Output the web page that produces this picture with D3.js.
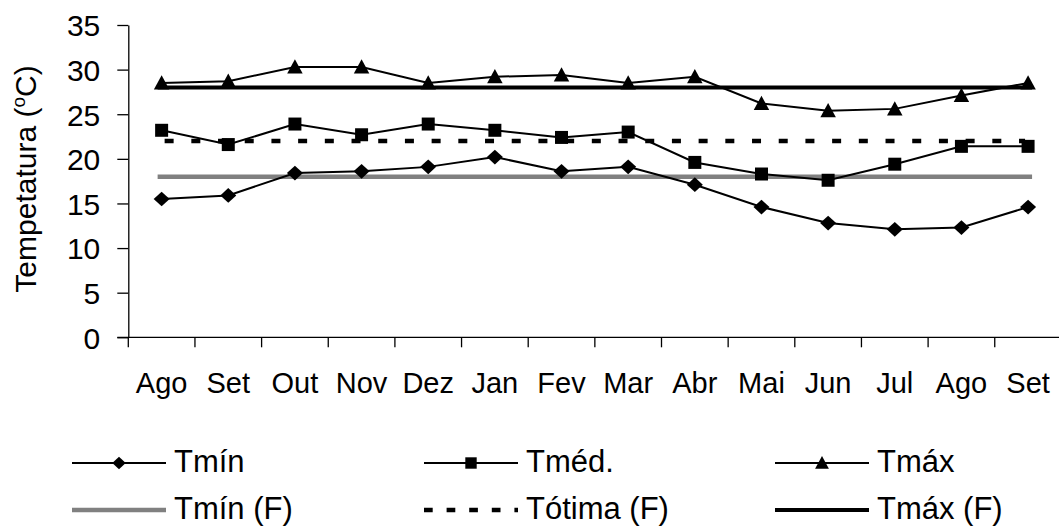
<!DOCTYPE html>
<html>
<head>
<meta charset="utf-8">
<script src="https://cdn.jsdelivr.net/npm/d3@7"></script>
<style>
  body { margin: 0; background: #fff; }
  text { font-family: "Liberation Sans", Arial, sans-serif; fill: #000; }
</style>
</head>
<body>
<div id="chart"></div>
<script>
const months = ['Ago', 'Set', 'Out', 'Nov', 'Dez', 'Jan', 'Fev', 'Mar', 'Abr', 'Mai', 'Jun', 'Jul', 'Ago', 'Set'];
const tmin = [15.5, 15.9, 18.4, 18.6, 19.1, 20.2, 18.6, 19.1, 17.1, 14.6, 12.8, 12.1, 12.3, 14.6];
const tmed = [23.2, 21.6, 23.9, 22.7, 23.9, 23.2, 22.4, 23.0, 19.6, 18.3, 17.6, 19.4, 21.4, 21.4];
const tmax = [28.5, 28.7, 30.3, 30.3, 28.5, 29.2, 29.4, 28.5, 29.2, 26.2, 25.4, 25.6, 27.1, 28.5];
const tminF = 18;
const totimaF = 22;
const tmaxF = 28;
const yTicks = [0, 5, 10, 15, 20, 25, 30, 35];

const width = 1059, height = 526;
const plotLeft = 128.3, plotRight = 1061.4, plotTop = 25, plotBottom = 337.3;

const svg = d3.select('#chart').append('svg')
  .attr('width', width)
  .attr('height', height);

// excel-like markers: flat diamond and triangle centred on the point
const diamond = {
  draw(ctx, size) {
    const r = Math.sqrt(size) / 2;
    ctx.moveTo(0, -r * 0.92);
    ctx.lineTo(r, 0);
    ctx.lineTo(0, r * 0.92);
    ctx.lineTo(-r, 0);
    ctx.closePath();
  }
};
const triangle = {
  draw(ctx, size) {
    const r = Math.sqrt(size) / 2;
    ctx.moveTo(0, -r);
    ctx.lineTo(r, r * 0.85);
    ctx.lineTo(-r, r * 0.85);
    ctx.closePath();
  }
};

// band scale so ticks sit between months like the original
const idx = months.map((m, i) => i);
const xBand = d3.scaleBand().domain(idx).range([plotLeft, plotRight]);
const x = i => xBand(i) + xBand.bandwidth() / 2;
const y = d3.scaleLinear().domain([0, 35]).range([plotBottom, plotTop]);

// y axis
const yAxis = svg.append('g')
  .attr('transform', `translate(${plotLeft},0)`)
  .call(d3.axisLeft(y).tickValues(yTicks).tickSize(11).tickPadding(17).tickSizeOuter(0));
yAxis.select('.domain').attr('stroke', '#000').attr('stroke-width', 1.3);
yAxis.selectAll('.tick line').attr('stroke', '#000').attr('stroke-width', 1.3);
yAxis.selectAll('.tick text')
  .style('font-size', '30px')
  .style('font-family', '"Liberation Sans", Arial, sans-serif')
  .attr('fill', '#000')
  .attr('dy', '0.36em');

// x axis, ticks at band edges
const xAxis = svg.append('g').attr('transform', `translate(0,${plotBottom})`);
xAxis.append('line')
  .attr('x1', plotLeft - 11).attr('x2', plotRight)
  .attr('stroke', '#000').attr('stroke-width', 1.3);
xAxis.selectAll('.xt')
  .data(idx)
  .enter().append('line')
  .attr('x1', i => xBand(i)).attr('x2', i => xBand(i))
  .attr('y1', 0).attr('y2', 10)
  .attr('stroke', '#000').attr('stroke-width', 1.3);
xAxis.selectAll('.xl')
  .data(months)
  .enter().append('text')
  .attr('x', (m, i) => x(i))
  .attr('y', 56)
  .attr('text-anchor', 'middle')
  .style('font-size', '29px')
  .text(m => m);

// y label
svg.append('text')
  .attr('transform', 'translate(36,179) rotate(-90)')
  .attr('text-anchor', 'middle')
  .style('font-size', '30px')
  .html('Tempetatura (<tspan dy="-11" font-size="19px">o</tspan><tspan dy="11">C)</tspan>');

// reference lines
const refs = [
  { v: tminF, color: '#808080', w: 4.6, dash: null },
  { v: totimaF, color: '#000', w: 4.5, dash: '9,17.7' },
  { v: tmaxF, color: '#000', w: 4, dash: null }
];
refs.forEach(r => {
  const pad = r.dash ? -3 : 4;
  const l = svg.append('line')
    .attr('x1', x(0) - pad).attr('x2', x(months.length - 1) + pad)
    .attr('y1', y(r.v)).attr('y2', y(r.v))
    .attr('stroke', r.color)
    .attr('stroke-width', r.w);
  if (r.dash) l.attr('stroke-dasharray', r.dash);
});

// series
const line = d3.line().x((d, i) => x(i)).y(d => y(d));
const series = [
  { data: tmin, sym: diamond, size: 256 },
  { data: tmed, sym: d3.symbolSquare, size: 169 },
  { data: tmax, sym: triangle, size: 240 }
];
series.forEach(s => {
  svg.append('path')
    .datum(s.data)
    .attr('d', line)
    .attr('fill', 'none')
    .attr('stroke', '#000')
    .attr('stroke-width', 2);
  svg.selectAll(null)
    .data(s.data)
    .enter().append('path')
    .attr('d', d3.symbol().type(s.sym).size(s.size))
    .attr('transform', (d, i) => `translate(${x(i)},${y(d)})`)
    .attr('fill', '#000');
});

// legend
const legend = [
  { name: 'Tmín', x: 72, y: 463, sym: diamond, size: 180 },
  { name: 'Tméd.', x: 424, y: 463, sym: d3.symbolSquare, size: 130 },
  { name: 'Tmáx', x: 775, y: 463, sym: triangle, size: 190 },
  { name: 'Tmín (F)', x: 72, y: 510, color: '#808080', w: 4.6 },
  { name: 'Tótima (F)', x: 424, y: 510, color: '#000', w: 4.5, dash: '8.7,13.9' },
  { name: 'Tmáx (F)', x: 775, y: 510, color: '#000', w: 4 }
];
legend.forEach(d => {
  const g = svg.append('g').attr('transform', `translate(${d.x},${d.y})`);
  const l = g.append('line')
    .attr('x1', 0).attr('x2', 94)
    .attr('stroke', d.color || '#000')
    .attr('stroke-width', d.w || 2);
  if (d.dash) l.attr('stroke-dasharray', d.dash);
  if (d.sym) {
    g.append('path')
      .attr('d', d3.symbol().type(d.sym).size(d.size))
      .attr('transform', 'translate(47,0)')
      .attr('fill', '#000');
  }
  g.append('text')
    .attr('x', 102)
    .attr('y', 9)
    .style('font-size', '31px')
    .text(d.name);
});
</script>
</body>
</html>
